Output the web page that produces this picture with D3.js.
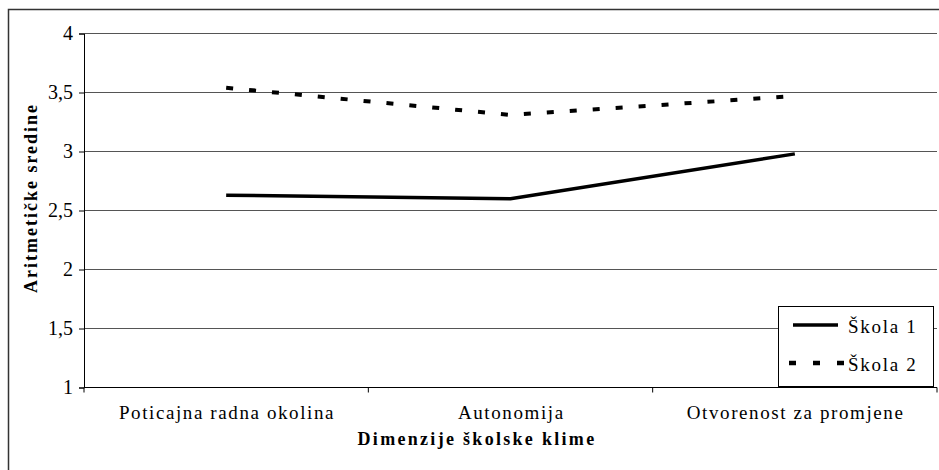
<!DOCTYPE html>
<html><head><meta charset="utf-8">
<script src="https://cdn.jsdelivr.net/npm/d3@7"></script>
<style>
body{margin:0;background:#fff;}
text{font-family:"Liberation Serif","DejaVu Serif",serif;fill:#000;}
</style></head>
<body><svg id="c" width="939" height="470"></svg>
<script>
const categories = ["Poticajna radna okolina", "Autonomija", "Otvorenost za promjene"];
const skola1 = [2.63, 2.60, 2.98];
const skola2 = [3.54, 3.31, 3.47];
const seriesNames = ["Škola 1", "Škola 2"];
const yTicks = [1, 1.5, 2, 2.5, 3, 3.5, 4];
const yTickLabels = ["1", "1,5", "2", "2,5", "3", "3,5", "4"];
const xTitle = "Dimenzije školske klime";
const yTitle = "Aritmetičke sredine";

const svg = d3.select("#c");
const L = 84, R = 937, T = 33.5, B = 387.5;

svg.append("rect").attr("x", 8.5).attr("y", 9.5).attr("width", 940).attr("height", 470)
  .attr("fill", "none").attr("stroke", "#333").attr("stroke-width", 1.5);

const x = d3.scaleBand().domain(categories).range([L, R]);
const y = d3.scaleLinear().domain([1, 4]).range([B, T]);

// gridlines
svg.append("g").selectAll("line").data(yTicks.filter(v => v > 1)).join("line")
  .attr("x1", L).attr("x2", R).attr("y1", d => y(d)).attr("y2", d => y(d))
  .attr("stroke", "#555").attr("stroke-width", 1);

// y axis
const yAxis = d3.axisLeft(y).tickValues(yTicks).tickSize(5).tickPadding(6)
  .tickFormat((d, i) => yTickLabels[i]);
const gy = svg.append("g").attr("transform", `translate(${L},0)`).call(yAxis);
gy.select(".domain").attr("stroke", "#000");
gy.selectAll(".tick line").attr("stroke", "#000");
gy.selectAll(".tick text").style("font-size", "20px").style("font-family", "Liberation Serif");

// x axis
const xAxis = d3.axisBottom(x).tickSize(0).tickPadding(18);
const gx = svg.append("g").attr("transform", `translate(0,${B})`).call(xAxis);
gx.select(".domain").remove();
gx.append("line").attr("x1", L).attr("x2", R).attr("stroke", "#000");
gx.selectAll(".tick text").style("font-size", "19px").style("letter-spacing", "1.6px")
  .style("font-family", "Liberation Serif").attr("dx", "0.8px");
// boundary ticks
const bounds = categories.map(c => x(c)).concat([x(categories[categories.length - 1]) + x.bandwidth()]);
gx.selectAll(".bt").data(bounds).join("line").attr("class", "bt")
  .attr("x1", d => d).attr("x2", d => d).attr("y1", 0).attr("y2", 5).attr("stroke", "#000");

// lines
const line = d3.line().x((d, i) => x(categories[i]) + x.bandwidth() / 2).y(d => y(d));
svg.append("path").datum(skola1).attr("d", line).attr("fill", "none")
  .attr("stroke", "#000").attr("stroke-width", 3.5);
svg.append("path").datum(skola2).attr("d", line).attr("fill", "none")
  .attr("stroke", "#000").attr("stroke-width", 4).attr("stroke-dasharray", "7,16");

// axis titles
svg.append("text").attr("x", 477).attr("y", 445).attr("text-anchor", "middle")
  .style("font-size", "18px").style("font-weight", "bold").style("letter-spacing", "2.3px").text(xTitle);
svg.append("text").attr("transform", `translate(37,198) rotate(-90)`)
  .attr("text-anchor", "middle").style("font-size", "18px").style("font-weight", "bold")
  .style("letter-spacing", "2px").text(yTitle);

// legend
const lg = svg.append("g");
lg.append("rect").attr("x", 778.5).attr("y", 306.5).attr("width", 155).attr("height", 80)
  .attr("fill", "#fff").attr("stroke", "#000");
const ly = [325, 363];
lg.append("line").attr("x1", 793).attr("x2", 838).attr("y1", ly[0]).attr("y2", ly[0])
  .attr("stroke", "#000").attr("stroke-width", 3.5);
lg.append("line").attr("x1", 789).attr("x2", 846).attr("y1", ly[1]).attr("y2", ly[1])
  .attr("stroke", "#000").attr("stroke-width", 4.5).attr("stroke-dasharray", "7,17");
lg.selectAll("text").data(seriesNames).join("text")
  .attr("x", 848).attr("y", (d, i) => ly[i] + 8).style("font-size", "19px")
  .style("letter-spacing", "1.7px").text(d => d);
</script></body></html>
